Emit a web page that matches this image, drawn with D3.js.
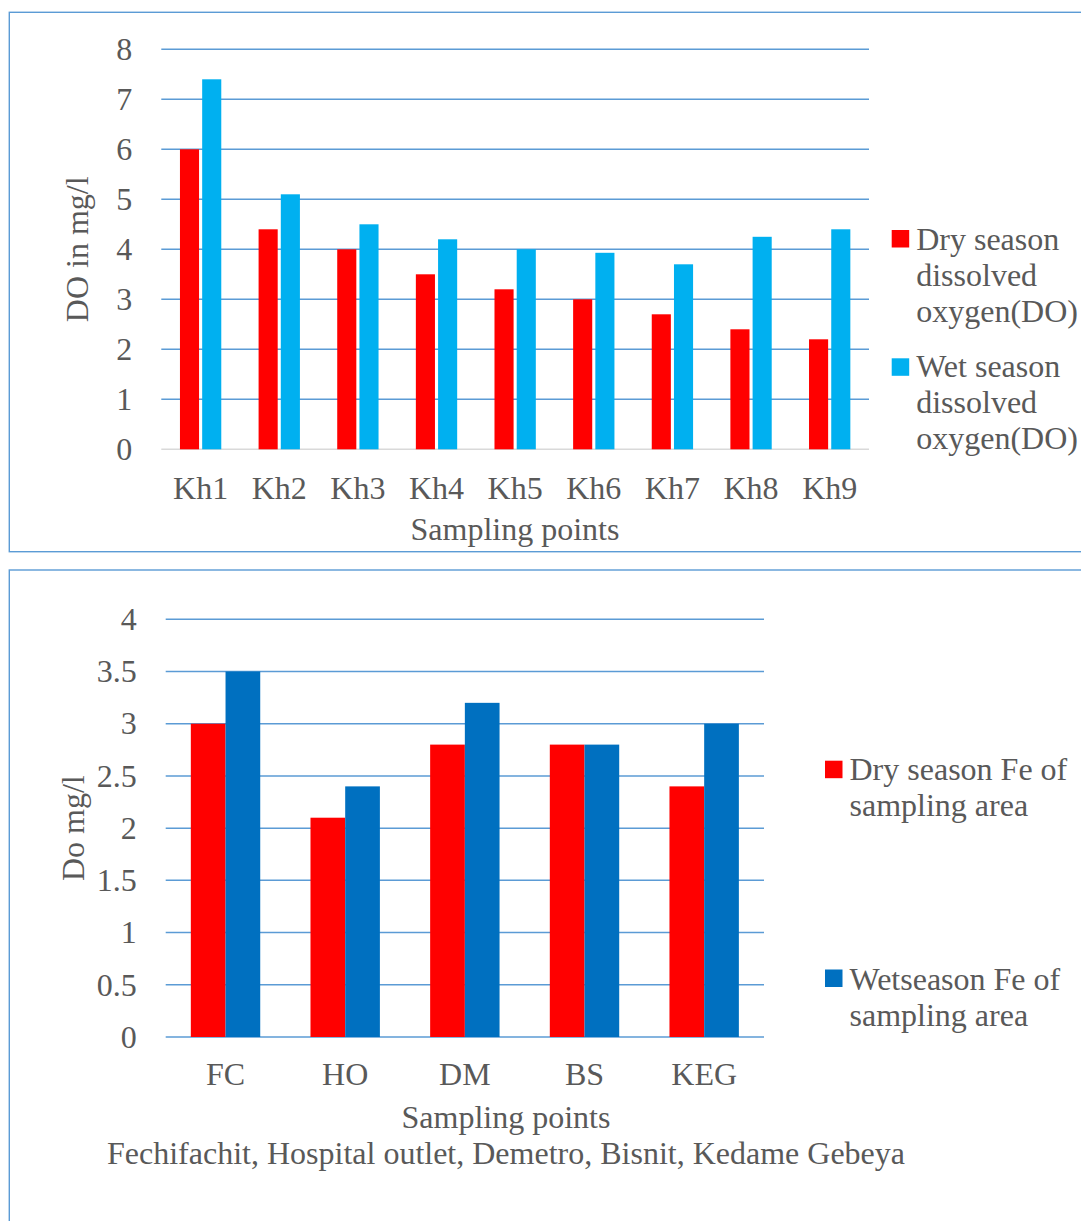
<!DOCTYPE html>
<html>
<head>
<meta charset="utf-8">
<script src="https://cdn.jsdelivr.net/npm/d3@7"></script>
<style>
  html, body { margin: 0; padding: 0; background: #ffffff; }
  svg { display: block; }
  text { font-family: "Liberation Serif", "Times New Roman", serif; fill: #595959; }
</style>
</head>
<body>
<svg id="chart" width="1081" height="1221"></svg>
<script>
// Dissolved oxygen per sampling point (mg/l)
const doPoints = ["Kh1", "Kh2", "Kh3", "Kh4", "Kh5", "Kh6", "Kh7", "Kh8", "Kh9"];
const doDry = [6.0, 4.4, 4.0, 3.5, 3.2, 3.0, 2.7, 2.4, 2.2];
const doWet = [7.4, 5.1, 4.5, 4.2, 4.0, 3.93, 3.7, 4.25, 4.4];
const doTicks = [0, 1, 2, 3, 4, 5, 6, 7, 8];
const doSeries = ["Dry season dissolved oxygen(DO)", "Wet season dissolved oxygen(DO)"];

// Fe per sampling area (mg/l)
const fePoints = ["FC", "HO", "DM", "BS", "KEG"];
const feDry = [3.0, 2.1, 2.8, 2.8, 2.4];
const feWet = [3.5, 2.4, 3.2, 2.8, 3.0];
const feTicks = [0, 0.5, 1, 1.5, 2, 2.5, 3, 3.5, 4];
const feSeries = ["Dry season Fe of sampling area", "Wetseason Fe of sampling area"];
const feNames = "Fechifachit, Hospital outlet, Demetro, Bisnit, Kedame Gebeya";

const svg = d3.select("#chart");
const GRID = "#5b9bd5";
const FONT = 32;

function panel(cfg) {
  const g = svg.append("g");
  // frame
  g.append("rect")
    .attr("x", cfg.frame[0]).attr("y", cfg.frame[1])
    .attr("width", cfg.frame[2]).attr("height", cfg.frame[3])
    .attr("fill", "none").attr("stroke", GRID).attr("stroke-width", 1.4);

  const y = d3.scaleLinear().domain([cfg.ticks[0], cfg.ticks[cfg.ticks.length - 1]])
    .range([cfg.plot.bottom, cfg.plot.top]);
  const x = d3.scaleBand().domain(cfg.cats).range([cfg.plot.left, cfg.plot.right])
    .paddingInner(cfg.gap).paddingOuter(cfg.gap / 2);
  const sub = d3.scaleBand().domain([0, 1]).range([0, x.bandwidth()]).paddingInner(cfg.subGap);

  // gridlines
  g.append("g").selectAll("line").data(cfg.ticks).join("line")
    .attr("x1", cfg.plot.left).attr("x2", cfg.plot.right)
    .attr("y1", d => y(d)).attr("y2", d => y(d))
    .attr("stroke", d => (d === 0 ? cfg.baseColor : GRID))
    .attr("stroke-width", 1.5);

  // y tick labels
  const yAxis = d3.axisLeft(y).tickValues(cfg.ticks).tickSize(0).tickPadding(29)
    .tickFormat(d => String(d));
  const ya = g.append("g").attr("transform", `translate(${cfg.plot.left},0)`).call(yAxis);
  ya.select(".domain").remove();
  ya.selectAll("text").style("font-size", FONT + "px").attr("fill", "#595959")
    .style("font-family", '"Liberation Serif", serif');

  // bars
  const series = [cfg.dry, cfg.wet];
  series.forEach((vals, si) => {
    g.append("g").selectAll("rect").data(vals).join("rect")
      .attr("x", (d, i) => x(cfg.cats[i]) + sub(si))
      .attr("width", sub.bandwidth())
      .attr("y", d => y(d))
      .attr("height", d => y(0) - y(d))
      .attr("fill", cfg.colors[si]);
  });

  // x labels
  g.append("g").selectAll("text").data(cfg.cats).join("text")
    .attr("x", d => x(d) + x.bandwidth() / 2)
    .attr("y", cfg.xLabelY)
    .attr("text-anchor", "middle")
    .style("font-size", FONT + "px")
    .text(d => d);

  // axis titles
  cfg.xTitle.forEach(t => {
    g.append("text").attr("x", t.x).attr("y", t.y).attr("text-anchor", "middle")
      .style("font-size", FONT + "px").text(t.text);
  });
  g.append("text")
    .attr("transform", `translate(${cfg.yTitle.x},${(cfg.plot.top + cfg.plot.bottom) / 2}) rotate(-90)`)
    .attr("text-anchor", "middle")
    .style("font-size", FONT + "px")
    .text(cfg.yTitle.text);

  // legend
  cfg.legend.forEach((item, si) => {
    g.append("rect")
      .attr("x", item.x).attr("y", item.sq)
      .attr("width", 17.5).attr("height", 17.5)
      .attr("fill", cfg.colors[si]);
    const t = g.append("text").attr("x", item.x + 24.5).attr("y", item.base)
      .style("font-size", FONT + "px");
    item.lines.forEach((ln, li) => {
      t.append("tspan").attr("x", item.x + 24.5).attr("dy", li === 0 ? 0 : 36).text(ln);
    });
  });
}

// Dissolved oxygen chart
panel({
  frame: [9.3, 12.3, 1100, 539.4],
  plot: { left: 161.3, right: 869, top: 49.3, bottom: 449.3 },
  ticks: doTicks,
  cats: doPoints,
  dry: doDry,
  wet: doWet,
  gap: 0.4745,
  subGap: 0.14,
  colors: ["#ff0000", "#00b0f0"],
  baseColor: "#d9d9d9",
  xLabelY: 498.5,
  xTitle: [{ x: 515, y: 539.5, text: "Sampling points" }],
  yTitle: { x: 88, text: "DO in mg/l" },
  legend: [
    { x: 891.7, sq: 230, base: 250, lines: ["Dry season", "dissolved", "oxygen(DO)"] },
    { x: 891.7, sq: 358.3, base: 377, lines: ["Wet season", "dissolved", "oxygen(DO)"] }
  ]
});

// Fe chart
panel({
  frame: [9.3, 570, 1100, 700],
  plot: { left: 165.7, right: 764, top: 619.3, bottom: 1037 },
  ticks: feTicks,
  cats: fePoints,
  dry: feDry,
  wet: feWet,
  gap: 0.42,
  subGap: 0,
  colors: ["#ff0000", "#0070c0"],
  baseColor: GRID,
  xLabelY: 1085,
  xTitle: [
    { x: 506, y: 1128, text: "Sampling points" },
    { x: 506, y: 1164, text: feNames }
  ],
  yTitle: { x: 84, text: "Do mg/l" },
  legend: [
    { x: 825, sq: 760.7, base: 779.5, lines: ["Dry season Fe of", "sampling area"] },
    { x: 825, sq: 969.5, base: 989.5, lines: ["Wetseason Fe of", "sampling area"] }
  ]
});
</script>
</body>
</html>
